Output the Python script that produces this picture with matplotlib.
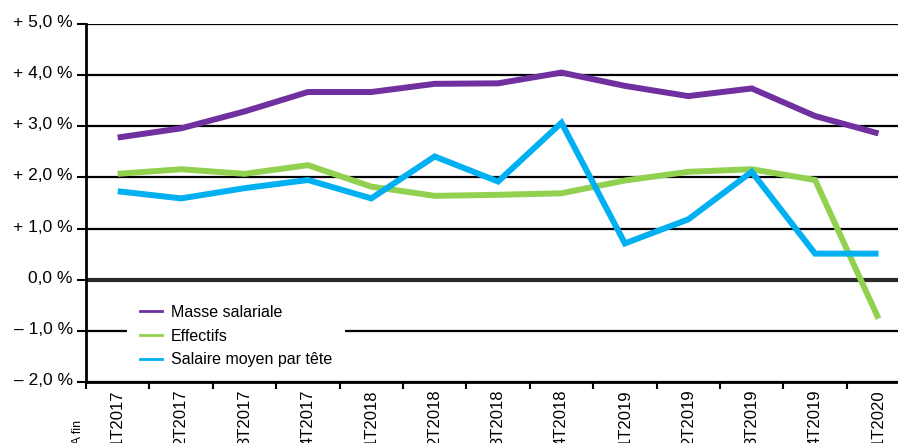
import matplotlib
matplotlib.use('Agg')
import matplotlib.pyplot as plt
import matplotlib.transforms as mtransforms
from matplotlib.lines import Line2D

plt.rcParams['font.family'] = ['Liberation Sans', 'DejaVu Sans']

quarters = ['1T2017', '2T2017', '3T2017', '4T2017', '1T2018', '2T2018', '3T2018',
            '4T2018', '1T2019', '2T2019', '3T2019', '4T2019', '1T2020']
masse_salariale = [2.78, 2.96, 3.29, 3.67, 3.67, 3.83, 3.84, 4.05, 3.79, 3.59, 3.74, 3.20, 2.86]
effectifs = [2.07, 2.16, 2.07, 2.24, 1.82, 1.64, 1.66, 1.69, 1.94, 2.11, 2.16, 1.95, -0.76]
salaire_moyen = [1.73, 1.59, 1.79, 1.95, 1.59, 2.41, 1.92, 3.07, 0.71, 1.18, 2.11, 0.51, 0.51]
series_names = ['Masse salariale', 'Effectifs', 'Salaire moyen par tête']
y_ticks = [5, 4, 3, 2, 1, 0, -1, -2]
y_tick_labels = ['+ 5,0 %', '+ 4,0 %', '+ 3,0 %', '+ 2,0 %', '+ 1,0 %', '0,0 %', '– 1,0 %', '– 2,0 %']

colors = ['#7030A0', '#92D050', '#00B0F0']

W, H = 898, 443
fig = plt.figure(figsize=(W / 100, H / 100), dpi=100)
ax = fig.add_axes([86 / W, 61 / H, 1 - 86 / W, 358 / H])

x = list(range(len(quarters)))
for vals, c in zip([masse_salariale, effectifs, salaire_moyen], colors):
    ax.plot(x, vals, color=c, lw=4.3, solid_joinstyle='miter', solid_capstyle='butt', zorder=3)

ax.set_xlim(-0.5, -0.5 + (W - 86) / 63.4)
ax.set_ylim(-2, 5)

ax.set_yticks(y_ticks)
ax.set_yticklabels(y_tick_labels, fontsize=12.5)
ax.yaxis.grid(True, color='black', lw=1.6)
ax.set_axisbelow(True)
ax.axhline(0, color='#2a2a2a', lw=3.0, zorder=1.5)
ax.tick_params(axis='y', length=6.5, width=1.5, pad=3.0, direction='out')
offset = mtransforms.ScaledTranslation(0, 3 / 100, fig.dpi_scale_trans)
for lab in ax.get_yticklabels():
    lab.set_transform(lab.get_transform() + offset)

ax.set_xticks(x)
ax.set_xticklabels(quarters, rotation=90, fontsize=12, va='top', ha='center')
ax.set_xticks([i - 0.5 for i in range(len(quarters))], minor=True)
ax.tick_params(axis='x', which='major', length=0, pad=5.5)
ax.tick_params(axis='x', which='minor', length=5, width=1.5, direction='out')

for s in ['top', 'right']:
    ax.spines[s].set_visible(False)
ax.spines['left'].set_linewidth(2)
ax.spines['bottom'].set_linewidth(2)

fig.text(78 / W, 1 - 420 / H, 'GA fin', rotation=90, ha='center', va='top', fontsize=9)

handles = [Line2D([], [], color=c, lw=2) for c in colors]
leg = ax.legend(handles, series_names, loc='upper left',
                bbox_to_anchor=(127 / W, 1 - 292 / H), bbox_transform=fig.transFigure,
                fontsize=11.5, frameon=True, framealpha=1, fancybox=False,
                edgecolor='none', handlelength=1.4, handletextpad=0.56,
                labelspacing=0.55, borderpad=0.8, borderaxespad=0)
leg.set_zorder(5)

fig.savefig('out.png', dpi=100)
